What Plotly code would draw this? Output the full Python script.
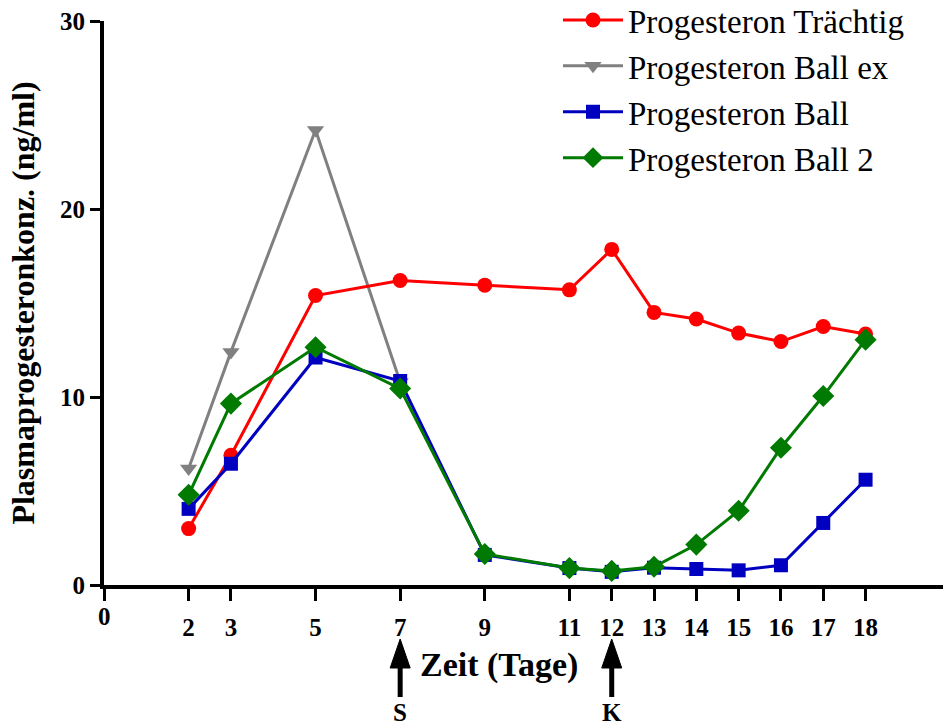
import plotly.graph_objects as go

# Sampling days and plasma progesterone values (ng/ml)
days = [2, 3, 5, 7, 9, 11, 12, 13, 14, 15, 16, 17, 18]
traechtig = [3.0, 6.9, 15.4, 16.2, 15.95, 15.7, 17.85, 14.5, 14.15, 13.4, 12.95, 13.75, 13.35]
days_ex = [2, 3, 5, 7]
ball_ex = [6.2, 12.4, 24.2, 10.8]
ball = [4.05, 6.45, 12.1, 10.85, 1.6, 0.9, 0.7, 0.92, 0.85, 0.78, 1.05, 3.3, 5.6]
ball2 = [4.8, 9.65, 12.65, 10.45, 1.65, 0.9, 0.75, 0.97, 2.15, 3.95, 7.3, 10.05, 13.05]

x_ticks = [2, 3, 5, 7, 9, 11, 12, 13, 14, 15, 16, 17, 18]
y_ticks = [0, 10, 20, 30]
events = [(7, "S"), (12, "K")]

FONT = "Liberation Serif"
PLOT_H = 564  # height of the plotting area in pixels
X_UNIT = 839 / 19.83  # pixels per day

fig = go.Figure()

# (name, x, y, colour, symbol, size, legend rank); gray is drawn first
series = [
    ("Progesteron Ball ex", days_ex, ball_ex, "#808080", "triangle-down", 15, 2),
    ("Progesteron Trächtig", days, traechtig, "#ff0000", "circle", 15, 1),
    ("Progesteron Ball", days, ball, "#0000c0", "square", 14, 3),
    ("Progesteron Ball 2", days, ball2, "#007a00", "diamond", 17, 4),
]
for name, xs, ys, color, symbol, size, rank in series:
    fig.add_trace(go.Scatter(
        x=xs, y=ys, name=name, legendgroup=name, legendrank=rank,
        mode="lines+markers",
        line=dict(color=color, width=3),
        marker=dict(color=color, symbol=symbol, size=size, line=dict(width=0)),
    ))

fig.update_layout(
    width=943, height=727,
    margin=dict(l=104, r=0, t=21, b=142, autoexpand=False),
    plot_bgcolor="white", paper_bgcolor="white",
    font=dict(family=FONT, color="black"),
    showlegend=True,
    legend=dict(
        x=(558 - 104) / 839, y=(585 + 8) / PLOT_H, xanchor="left", yanchor="top",
        font=dict(family=FONT, size=33, color="black"),
        traceorder="grouped", tracegroupgap=0,
        bgcolor="rgba(0,0,0,0)", itemwidth=60,
    ),
    xaxis=dict(
        range=[0, 19.83], showgrid=False, zeroline=False,
        showline=True, linecolor="black", linewidth=4,
        ticks="outside", ticklen=12, tickwidth=3, tickcolor="black",
        tickvals=[0] + x_ticks, ticktext=[""] + [str(v) for v in x_ticks],
        tickfont=dict(family=FONT, size=25, color="black", weight="bold"),
        ticklabelstandoff=5,
    ),
    yaxis=dict(
        range=[0, 30], showgrid=False, zeroline=False,
        showline=True, linecolor="black", linewidth=4,
        ticks="outside", ticklen=10, tickwidth=3, tickcolor="black",
        tickvals=y_ticks, ticktext=[str(v) for v in y_ticks],
        tickfont=dict(family=FONT, size=25, color="black", weight="bold"),
        ticklabelstandoff=0,
        title=dict(text="Plasmaprogesteronkonz. (ng/ml)",
                   font=dict(family=FONT, size=32, color="black", weight="bold"),
                   standoff=17),
    ),
)

annotations = [
    dict(x=0, xref="x", y=-31 / PLOT_H, yref="paper", text="<b>0</b>", showarrow=False,
         font=dict(family=FONT, size=25, color="black"), yanchor="middle"),
    dict(x=(499 - 104) / 839, xref="paper", y=-80 / PLOT_H, yref="paper",
         text="<b>Zeit (Tage)</b>", showarrow=False,
         font=dict(family=FONT, size=34, color="black"), yanchor="middle"),
]

# event arrows below the axis: shaft plus a narrow filled head
head_tip, head_base, shaft_end = -54 / PLOT_H, -83 / PLOT_H, -112 / PLOT_H
half_head = 10 / X_UNIT
for day, label in events:
    fig.add_shape(type="line", xref="x", yref="paper",
                  x0=day, x1=day, y0=shaft_end, y1=head_base + 0.005,
                  line=dict(color="black", width=5))
    fig.add_shape(type="path", xref="x", yref="paper",
                  path=f"M {day - half_head} {head_base} L {day} {head_tip} "
                       f"L {day + half_head} {head_base} Z",
                  fillcolor="black", line=dict(color="black", width=1))
    annotations.append(dict(
        x=day, xref="x", y=-127 / PLOT_H, yref="paper", text="<b>" + label + "</b>",
        showarrow=False, font=dict(family=FONT, size=25, color="black"), yanchor="middle",
    ))
fig.update_layout(annotations=annotations)

fig.write_html("out.html")
